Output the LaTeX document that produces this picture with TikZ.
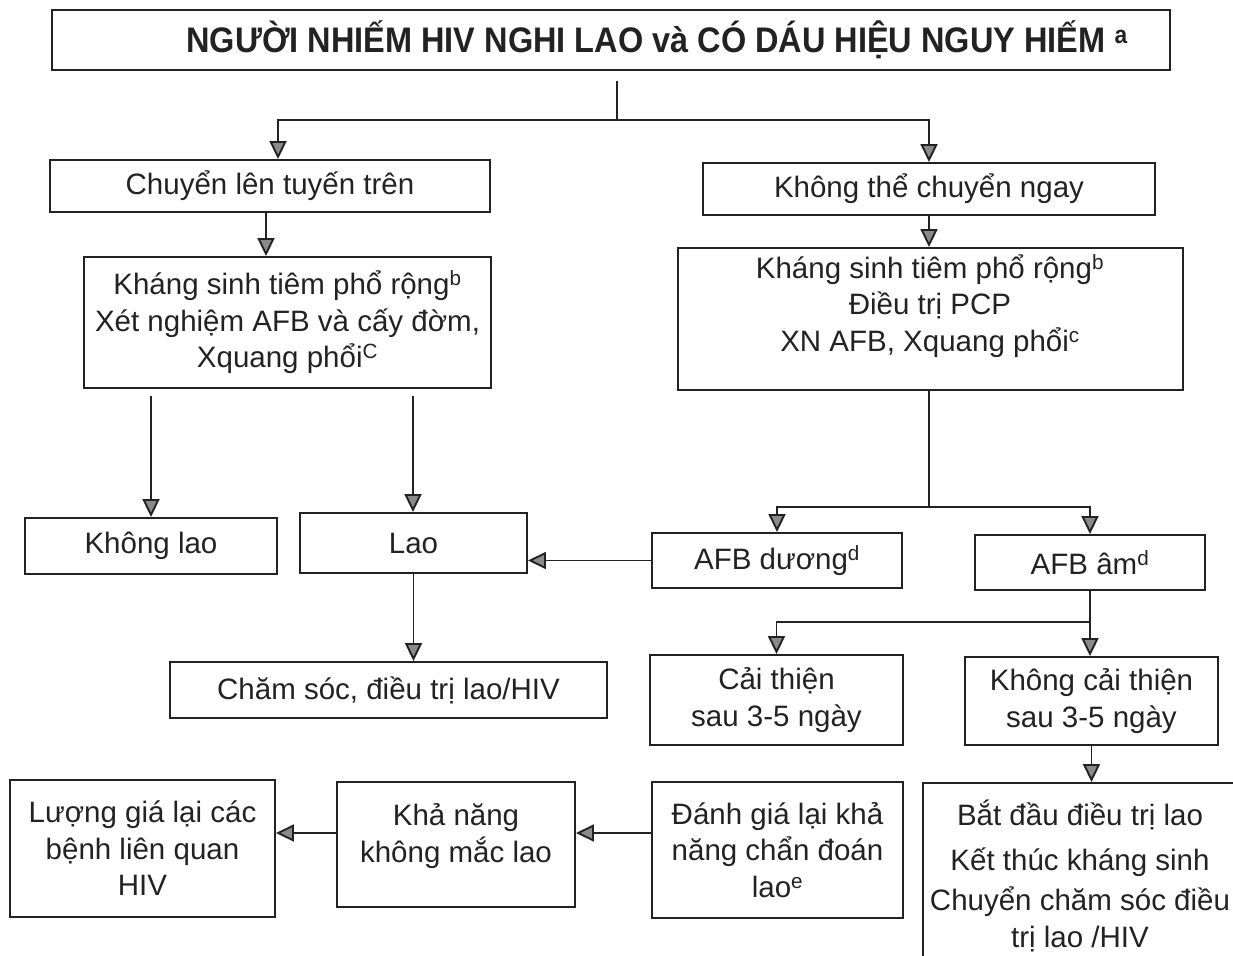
\documentclass[tikz,border=0pt]{standalone}
\usepackage{fontspec}
\setmainfont{Liberation Sans}
\newfontfamily\titlefont[FakeStretch=0.915]{Liberation Sans}
\usetikzlibrary{arrows.meta}

\definecolor{ink}{HTML}{222222}
\definecolor{tipfill}{HTML}{8A8A8A}

\tikzset{
  box/.style={draw=ink, line width=1.9pt, inner sep=0pt, align=center,
    text=ink, font=\fontsize{29.5}{36.5}\selectfont},
  label text/.style={inner sep=0pt, align=center, text=ink,
    font=\fontsize{29.5}{36.5}\selectfont},
  link/.style={draw=ink, line width=1.9pt},
  arr/.style={link, -{Triangle[length=18pt,width=17pt,fill=tipfill]}},
}

\begin{document}
\begin{tikzpicture}[x=1pt,y=-1pt]
\useasboundingbox (0,0) rectangle (1233,955);
\clip (0,0) rectangle (1233,955);

% header
\node[box, minimum width=1118pt, minimum height=60pt,
      font=\titlefont\bfseries\fontsize{35.5}{40}\selectfont] (title) at (611,40)
  {\hspace*{92pt}NGƯỜI NHIẾM HIV NGHI LAO và CÓ DÁU HIỆU NGUY HIẾM \textsuperscript{a}};

% first split
\node[box, minimum width=440pt, minimum height=52pt] (chuyen) at (270,186) {Chuyển lên tuyến trên};
\node[box, minimum width=452pt, minimum height=52pt] (khongthe) at (929,189) {Không thể chuyển ngay};

% treatment boxes
\node[box, minimum width=407pt, minimum height=131pt] (ks1) at (287.5,322.5)
  {Kháng sinh tiêm phổ rộng\textsuperscript{b}\\Xét nghiệm AFB và cấy đờm,\\Xquang phổi\textsuperscript{C}};
\node[box, minimum width=505pt, minimum height=142pt] (ks2) at (930.5,319) {};
\node[label text] (ks2t) at (930,306)
  {Kháng sinh tiêm phổ rộng\textsuperscript{b}\\Điều trị PCP\\XN AFB, Xquang phổi\textsuperscript{c}};

% outcomes on the left
\node[box, minimum width=252pt, minimum height=56pt] (khonglao) at (151,546) {Không lao};
\node[box, minimum width=227pt, minimum height=60pt] (lao) at (413.5,543) {Lao};
\node[box, minimum width=437pt, minimum height=56pt] (chamsoc) at (388.5,690) {Chăm sóc, điều trị lao/HIV};

% smear results
\node[box, minimum width=250pt, minimum height=55pt] (afbd) at (777,560.5) {AFB dương\textsuperscript{d}};
\node[box, minimum width=230pt, minimum height=55pt] (afba) at (1090,562.5) {AFB âm\textsuperscript{d}};

% response after 3-5 days
\node[box, minimum width=253pt, minimum height=90pt] (caithien) at (776.5,700) {Cải thiện\\sau 3-5 ngày};
\node[box, minimum width=253pt, minimum height=88pt] (kct) at (1091.5,701) {Không cải thiện\\sau 3-5 ngày};

% bottom row
\node[box, minimum width=340pt, minimum height=220pt] (batdau) at (1093,893) {};
\node[label text] (batdaut) at (1080,876)
  {Bắt đầu điều trị lao\\[8pt]Kết thúc kháng sinh\\[4pt]Chuyển chăm sóc điều\\trị lao /HIV};
\node[box, minimum width=251pt, minimum height=136pt] (danhgia) at (777.5,850)
  {Đánh giá lại khả\\năng chẩn đoán\\lao\textsuperscript{e}};
\node[box, minimum width=238pt, minimum height=125pt] (khanang) at (456,844.5) {};
\node[label text] (khanangt) at (456,836) {Khả năng\\không mắc lao};
\node[box, minimum width=265pt, minimum height=137pt] (luonggia) at (142.5,848.5)
  {Lượng giá lại các\\bệnh liên quan\\HIV};

% connectors
\coordinate (split1) at (617,120);
\draw[link] ([yshift=-10pt]title.south -| split1) -- (split1);
\draw[arr] (split1) -| ([xshift=8pt]chuyen.north);
\draw[arr] (split1) -| (khongthe.north);

\draw[arr] ([xshift=-4pt]chuyen.south) -- ([xshift=-4pt]chuyen.south |- ks1.north);
\draw[arr] (khongthe.south) -- (khongthe.south |- ks2.north);

\coordinate (ksL) at (151,396);
\coordinate (ksR) at (413,396);
\draw[arr] (ksL) -- (ksL |- khonglao.north);
\draw[arr] (ksR) -- (ksR |- lao.north);

\draw[arr] (afbd.west) -- (afbd.west -| lao.east);
\draw[arr] (lao.south) -- (lao.south |- chamsoc.north);

\coordinate (split2) at (929,507);
\draw[link] (ks2.south -| split2) -- (split2);
\draw[arr] (split2) -| (afbd.north);
\draw[arr] (split2) -| (afba.north);

\coordinate (split3) at (1090,622);
\draw[link] (afba.south) -- (afba.south |- split3);
\draw[arr] (afba.south |- split3) -| (caithien.north);
\draw[arr] (afba.south |- split3) -- (afba.south |- kct.north);

\draw[arr] (kct.south) -- (kct.south |- batdau.north);

\coordinate (row) at (0,833);
\draw[arr] (danhgia.west |- row) -- (khanang.east |- row);
\draw[arr] (khanang.west |- row) -- (luonggia.east |- row);
\end{tikzpicture}
\end{document}
